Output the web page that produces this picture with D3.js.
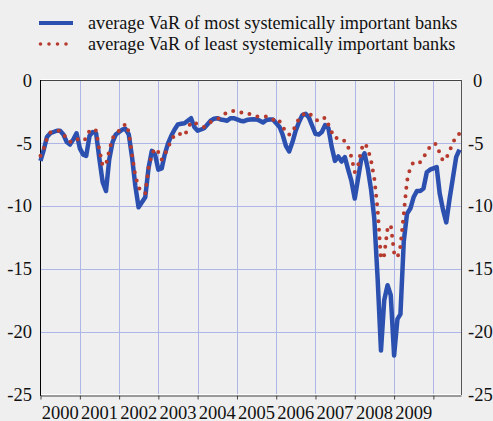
<!DOCTYPE html>
<html lang="en">
<head>
  <meta charset="utf-8">
  <title>Average VaR of banks</title>
  <style>
    body { margin: 0; background: #efefef; }
    svg text { font-family: "Liberation Serif", "Times New Roman", Times, serif; }
  </style>
</head>
<body>
  <script src="https://cdnjs.cloudflare.com/ajax/libs/d3/7.8.5/d3.min.js"></script>
  <script type="text/javascript">
  // monthly values, Jan 2000 .. Sep 2010
  const startYear = 2000;
  const mostImportant = [
    -6.4, -5.5, -4.5, -4.2, -4.1, -4.0, -4.0, -4.3, -4.9, -5.1,
    -4.7, -4.2, -5.4, -5.9, -6.0, -4.4, -4.1, -4.2, -6.2, -8.1,
    -8.8, -6.3, -4.9, -4.3, -4.1, -3.9, -3.85, -4.3, -6.1, -8.4,
    -10.1, -9.7, -9.3, -7.0, -5.6, -5.9, -7.1, -7.0, -5.9, -5.0,
    -4.4, -3.9, -3.5, -3.45, -3.4, -3.2, -3.0, -3.7, -4.0, -3.9,
    -3.8, -3.5, -3.2, -3.05, -3.0, -3.1, -3.15, -3.2, -3.0, -3.0,
    -3.1, -3.2, -3.25, -3.15, -3.1, -3.08, -3.1, -3.2, -3.35, -3.15,
    -3.1, -3.1, -3.4, -3.7, -4.3, -5.2, -5.65, -4.9, -4.0, -3.3,
    -2.75, -2.65, -2.95, -3.6, -4.25, -4.3, -4.1, -3.55, -3.8, -5.3,
    -6.4, -6.05, -6.45, -6.1, -7.1, -8.0, -9.4, -7.8, -6.3, -5.8,
    -7.0, -8.7, -11.0, -15.8, -21.5, -17.5, -16.3, -17.1, -21.9, -19.0,
    -18.6, -12.8, -10.6, -10.2, -9.3, -8.8, -8.8, -8.6, -7.3, -7.1,
    -7.0, -6.9, -9.0, -10.3, -11.3, -9.4, -7.8, -6.1, -5.5
  ];
  const leastImportant = [
    -6.0, -5.4, -4.6, -4.15, -4.05, -4.0, -4.0, -4.3, -4.6, -4.9,
    -4.7, -4.6, -4.8, -4.8, -4.6, -4.0, -3.85, -4.0, -5.5, -6.8,
    -6.7, -5.6, -4.6, -4.2, -4.0, -3.8, -3.45, -4.1, -5.9, -7.6,
    -8.5, -8.9, -9.0, -7.0, -5.9, -5.4, -5.7, -6.3, -5.9, -5.3,
    -4.8, -4.3, -4.2, -4.3, -4.4, -3.85, -3.3, -3.35, -3.5, -3.6,
    -3.7, -3.5, -3.3, -3.2, -3.1, -2.9, -2.7, -2.55, -2.42, -2.42,
    -2.42, -2.5, -2.65, -2.7, -2.67, -2.7, -2.85, -2.9, -2.88, -2.87,
    -2.9, -3.1, -3.4, -3.25, -3.6, -4.2, -4.3, -4.15, -3.5, -3.05,
    -2.75, -2.6, -2.55, -2.85, -3.1, -3.25, -3.1, -2.95, -3.5, -4.1,
    -4.6, -4.55, -4.75, -4.8, -5.3, -6.1, -7.3, -6.8, -5.5, -5.0,
    -5.4, -6.4, -7.8, -10.3, -14.2, -13.9, -11.8, -11.5, -13.7, -14.1,
    -13.2, -10.6, -8.0, -6.9, -6.5, -6.6, -6.5, -6.1, -5.7, -5.25,
    -5.0, -5.1, -5.8, -6.4, -6.2, -5.6, -5.0, -4.4, -4.25
  ];
  const yTicks = [0, -5, -10, -15, -20, -25];
  const yearLabels = ["2000", "2001", "2002", "2003", "2004", "2005", "2006", "2007", "2008", "2009"];
  const legendLabels = [
    "average VaR of most systemically important banks",
    "average VaR of least systemically important banks"
  ];

  const width = 493;
  const height = 421;
  const plot = { left: 40.5, right: 461, top: 80.5, bottom: 394.5 };
  const blue = "#2c50b0";
  const red = "#b63b2e";
  const grid = "#aeb6e8";

  const svg = d3.select("body")
  .append("svg")
  .attr("width", width)
  .attr("height", height);

  const x = d3.scaleTime()
  .domain([new Date(2000, 0, 1), new Date(2010, 8, 15)])
  .range([plot.left, plot.right]);

  const y = d3.scaleLinear()
  .domain([-25, 0])
  .range([plot.bottom, plot.top]);

  const toPoints = (arr) => arr.map((v, i) => ({ date: new Date(startYear, i, 1), value: v }));

  const yearDates = d3.range(2001, 2011).map((yr) => new Date(yr, 0, 1));

  // grid
  svg.append("g")
  .selectAll("line")
  .data(yearDates)
  .enter()
  .append("line")
  .attr("x1", (d) => Math.round(x(d)) + 0.5)
  .attr("x2", (d) => Math.round(x(d)) + 0.5)
  .attr("y1", plot.top)
  .attr("y2", plot.bottom)
  .attr("stroke", grid);

  svg.append("g")
  .selectAll("line")
  .data(yTicks.filter((d) => d !== 0 && d !== -25))
  .enter()
  .append("line")
  .attr("x1", plot.left)
  .attr("x2", plot.right)
  .attr("y1", (d) => Math.round(y(d)) + 0.5)
  .attr("y2", (d) => Math.round(y(d)) + 0.5)
  .attr("stroke", grid);

  // frame
  svg.append("line")
  .attr("x1", plot.left).attr("x2", plot.right)
  .attr("y1", 79.5).attr("y2", 79.5)
  .attr("stroke", "#ffffff");
  svg.append("line")
  .attr("x1", plot.left).attr("x2", plot.right + 0.5)
  .attr("y1", 80.5).attr("y2", 80.5)
  .attr("stroke", "#444");
  svg.append("line")
  .attr("x1", plot.left).attr("x2", plot.right)
  .attr("y1", 394.5).attr("y2", 394.5)
  .attr("stroke", "#ffffff");
  svg.append("line")
  .attr("x1", plot.left).attr("x2", plot.left)
  .attr("y1", 80).attr("y2", 396)
  .attr("stroke", "#000");
  svg.append("line")
  .attr("x1", plot.right + 0.5).attr("x2", plot.right + 0.5)
  .attr("y1", 80).attr("y2", 395)
  .attr("stroke", "#555");

  // bottom axis
  const xAxis = d3.axisBottom(x)
  .tickValues([new Date(2000, 0, 1)].concat(yearDates))
  .tickFormat("")
  .tickSizeInner(4)
  .tickSizeOuter(0);

  const xg = svg.append("g")
  .attr("transform", "translate(0, 395.5)")
  .call(xAxis);
  xg.select(".domain").attr("stroke", "#444");
  xg.selectAll(".tick line").attr("stroke", "#444");

  svg.append("g")
  .selectAll("text")
  .data(yearLabels)
  .enter()
  .append("text")
  .attr("x", (d) => (x(new Date(+d, 0, 1)) + x(new Date(+d + 1, 0, 1))) / 2)
  .attr("y", 418.5)
  .attr("text-anchor", "middle")
  .attr("font-size", 18.5)
  .attr("fill", "#111")
  .text((d) => d);

  // y labels both sides
  svg.append("g")
  .selectAll("text")
  .data(yTicks)
  .enter()
  .append("text")
  .attr("x", 32)
  .attr("y", (d) => y(d))
  .attr("dy", "0.34em")
  .attr("text-anchor", "end")
  .attr("font-size", 18.5)
  .attr("fill", "#111")
  .text((d) => d);

  svg.append("g")
  .selectAll("text")
  .data(yTicks)
  .enter()
  .append("text")
  .attr("x", (d) => d === 0 ? 473 : 468)
  .attr("y", (d) => y(d))
  .attr("dy", "0.34em")
  .attr("text-anchor", "start")
  .attr("font-size", 18.5)
  .attr("fill", "#111")
  .text((d) => d);

  // series
  const line = d3.line()
  .x((d) => x(d.date))
  .y((d) => y(d.value));

  svg.append("path")
  .datum(toPoints(mostImportant))
  .attr("d", line)
  .attr("fill", "none")
  .attr("stroke", blue)
  .attr("stroke-width", 4.5)
  .attr("stroke-linejoin", "round");

  svg.append("path")
  .datum(toPoints(leastImportant))
  .attr("d", line)
  .attr("fill", "none")
  .attr("stroke", red)
  .attr("stroke-width", 4)
  .attr("stroke-linecap", "round")
  .attr("stroke-dasharray", "0 8.5");

  // legend
  const legend = svg.append("g");
  legend.append("line")
  .attr("x1", 39).attr("x2", 73)
  .attr("y1", 23).attr("y2", 23)
  .attr("stroke", blue)
  .attr("stroke-width", 4);
  legend.append("line")
  .attr("x1", 40.5).attr("x2", 74.5)
  .attr("y1", 44).attr("y2", 44)
  .attr("stroke", red)
  .attr("stroke-width", 3.6)
  .attr("stroke-linecap", "round")
  .attr("stroke-dasharray", "0 8.5");

  legend.selectAll("text")
  .data(legendLabels)
  .enter()
  .append("text")
  .attr("x", 88)
  .attr("y", (d, i) => 28.5 + i * 21)
  .attr("font-size", 18.2)
  .attr("fill", "#111")
  .text((d) => d);
  </script>
</body>
</html>
